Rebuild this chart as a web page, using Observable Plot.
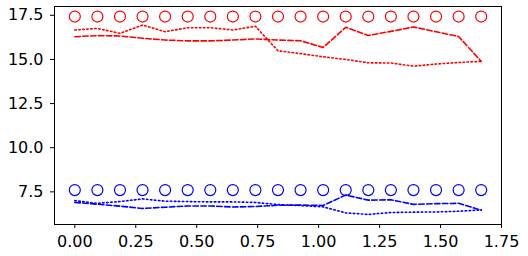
<!DOCTYPE html>
<html><head><meta charset="utf-8">
<script src="https://cdn.jsdelivr.net/npm/d3@7"></script>
<script src="https://cdn.jsdelivr.net/npm/@observablehq/plot@0.6"></script>
<style>body{margin:0;background:#fff}</style>
</head><body><div id="chart"></div>
<script>
const xs = [0, 0.0926, 0.1852, 0.2778, 0.3704, 0.463, 0.5556, 0.6481, 0.7407, 0.8333, 0.9259, 1.0185, 1.1111, 1.2037, 1.2963, 1.3889, 1.4815, 1.5741, 1.6667];
const redCircles = [17.43,17.43,17.43,17.43,17.43,17.43,17.43,17.43,17.43,17.43,17.43,17.43,17.43,17.43,17.43,17.43,17.43,17.43,17.43];
const blueCircles = [7.6,7.6,7.6,7.6,7.6,7.6,7.6,7.6,7.6,7.6,7.6,7.6,7.6,7.6,7.6,7.6,7.6,7.6,7.6];
const redDashed = [16.29,16.35,16.33,16.2,16.1,16.05,16.05,16.1,16.16,16.1,16.06,15.68,16.82,16.36,16.59,16.84,16.57,16.3,14.89];
const redDotted = [16.67,16.76,16.48,16.95,16.57,16.8,16.8,16.67,16.88,15.49,15.33,15.15,15.0,14.81,14.8,14.62,14.74,14.83,14.89];
const blueDashed = [6.9,6.8,6.69,6.56,6.63,6.7,6.7,6.64,6.67,6.74,6.75,6.73,7.32,7.03,7.05,6.79,6.83,6.85,6.46];
const blueDotted = [7.0,6.85,6.95,7.1,6.97,6.95,6.93,6.93,6.9,6.78,6.72,6.65,6.31,6.22,6.33,6.35,6.36,6.4,6.48];
const xTicks = [0, 0.25, 0.5, 0.75, 1.0, 1.25, 1.5, 1.75];
const yTicks = [7.5, 10.0, 12.5, 15.0, 17.5];

const tbl = ys => ys.map((y, i) => ({x: xs[i], y}));

const chart = Plot.plot({
  width: 528, height: 256,
  marginLeft: 54, marginRight: 27, marginTop: 6, marginBottom: 32,
  style: {fontFamily: "DejaVu Sans", fontSize: "16px", color: "black", background: "white"},
  x: {domain: [-0.0833, 1.75], label: null},
  y: {domain: [5.65, 18.0], label: null},
  marks: [
    Plot.axisX(xTicks, {tickFormat: d3.format(".2f"), tickSize: 4, tickPadding: 7, fontSize: 16, fill: "black", stroke: "black", label: null}),
    Plot.axisY(yTicks, {tickFormat: d3.format(".1f"), tickSize: 4, tickPadding: 7, fontSize: 16, fill: "black", stroke: "black", label: null}),
    Plot.line(tbl(redDashed), {x: "x", y: "y", stroke: "red", strokeWidth: 1.6, strokeDasharray: "5.5,2.4"}),
    Plot.line(tbl(redDotted), {x: "x", y: "y", stroke: "red", strokeWidth: 1.6, strokeDasharray: "1.5,2.5"}),
    Plot.line(tbl(blueDashed), {x: "x", y: "y", stroke: "blue", strokeWidth: 1.6, strokeDasharray: "5.5,2.4"}),
    Plot.line(tbl(blueDotted), {x: "x", y: "y", stroke: "blue", strokeWidth: 1.6, strokeDasharray: "1.5,2.5"}),
    Plot.dot(tbl(redCircles), {x: "x", y: "y", r: 5.5, stroke: "red", strokeWidth: 1.2, fill: "none"}),
    Plot.dot(tbl(blueCircles), {x: "x", y: "y", r: 5.5, stroke: "blue", strokeWidth: 1.2, fill: "none"}),
    Plot.frame({stroke: "black", strokeWidth: 1})
  ]
});
document.getElementById("chart").appendChild(chart);
</script>
</body></html>
